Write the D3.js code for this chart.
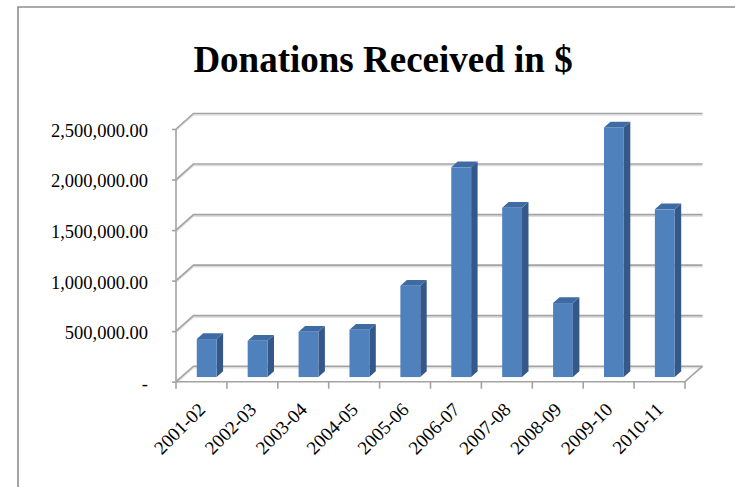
<!DOCTYPE html>
<html>
<head>
<meta charset="utf-8">
<script src="https://cdn.jsdelivr.net/npm/d3@7"></script>
<style>
	body { margin: 0; background: #fff; }
	svg { display: block; }
	text { font-family: "Liberation Serif", "DejaVu Serif", serif; fill: #000; }
</style>
</head>
<body>
<svg id="chart" width="735" height="487"></svg>
<script>
var categories = ['2001-02', '2002-03', '2003-04', '2004-05', '2005-06', '2006-07', '2007-08', '2008-09', '2009-10', '2010-11'];
var donations = [376000, 359000, 448000, 468000, 903000, 2075000, 1675000, 732000, 2470000, 1659000];
var yTicks = [0, 500000, 1000000, 1500000, 2000000, 2500000];
var chartTitle = 'Donations Received in $';

var svg = d3.select('#chart');

// plot box (front plane) and the 3d depth vector
var plotLeft = 176, plotRight = 685, plotBottom = 381.7, plotTop = 129;
var depthX = 17.5, depthY = -15.5;
var barFront = 0.3, barBack = 0.67;
var gridColor = '#a3a3a3';

var xScale = d3.scaleBand().domain(categories).range([plotLeft, plotRight]);
var yScale = d3.scaleLinear().domain([0, 2500000]).range([plotBottom, plotTop]);

// outer chart frame (top + left only visible)
svg.append('path')
	.attr('d', 'M18,487 L18,7 L735,7')
	.attr('fill', 'none')
	.attr('stroke', '#8e8e8e')
	.attr('stroke-width', 1.6);

svg.append('text')
	.attr('x', 383)
	.attr('y', 72)
	.attr('text-anchor', 'middle')
	.attr('font-size', 37)
	.attr('font-weight', 'bold')
	.text(chartTitle);

///walls: gridlines on the back wall + the diagonals on the side wall
var walls = svg.append('g');
walls.selectAll('path.shadow')
	.data(yTicks)
	.enter()
	.append('path')
	.attr('class', 'shadow')
	.attr('d', function (d) {
		var y = yScale(d) + 1.6;
		return 'M' + plotLeft + ',' + y + ' L' + (plotLeft + depthX) + ',' + (y + depthY) + ' L' + (plotRight + depthX) + ',' + (y + depthY);
	})
	.attr('fill', 'none')
	.attr('stroke', '#dedede')
	.attr('stroke-width', 1.4);
walls.selectAll('path.grid')
	.data(yTicks)
	.enter()
	.append('path')
	.attr('class', 'grid')
	.attr('d', function (d) {
		var y = yScale(d);
		return 'M' + plotLeft + ',' + y + ' L' + (plotLeft + depthX) + ',' + (y + depthY) + ' L' + (plotRight + depthX) + ',' + (y + depthY);
	})
	.attr('fill', 'none')
	.attr('stroke', gridColor)
	.attr('stroke-width', 1.6);

// floor right edge
walls.append('line')
	.attr('x1', plotRight).attr('y1', plotBottom)
	.attr('x2', plotRight + depthX).attr('y2', plotBottom + depthY)
	.attr('stroke', gridColor)
	.attr('stroke-width', 1.6);

///bars
var bw = xScale.bandwidth() * 0.39;
var fx = depthX * barFront, fy = depthY * barFront;
var sx = depthX * (barBack - barFront), sy = depthY * (barBack - barFront);

var bars = svg.append('g')
	.selectAll('g')
	.data(categories)
	.enter()
	.append('g');

function barLeft(c) {
	return xScale(c) + (xScale.bandwidth() - bw) / 2 + fx;
}
function barTop(i) {
	return yScale(donations[i]) + fy;
}

bars.append('path')
	.attr('d', function (c, i) {
		var x = barLeft(c) + bw, yT = barTop(i), yB = plotBottom + fy;
		return 'M' + x + ',' + yT + ' L' + (x + sx) + ',' + (yT + sy) + ' L' + (x + sx) + ',' + (yB + sy) + ' L' + x + ',' + yB + 'Z';
	})
	.attr('fill', '#335889');
bars.append('path')
	.attr('d', function (c, i) {
		var x = barLeft(c), yT = barTop(i);
		return 'M' + x + ',' + yT + ' L' + (x + sx) + ',' + (yT + sy) + ' L' + (x + bw + sx) + ',' + (yT + sy) + ' L' + (x + bw) + ',' + yT + 'Z';
	})
	.attr('fill', '#3f6ba3');
bars.append('rect')
	.attr('x', function (c) { return barLeft(c); })
	.attr('y', function (c, i) { return barTop(i); })
	.attr('width', bw)
	.attr('height', function (c, i) { return plotBottom + fy - barTop(i); })
	.attr('fill', '#4f81bd');

///axes
var yAxis = d3.axisLeft(yScale)
	.tickValues(yTicks)
	.tickSize(4)
	.tickPadding(24)
	.tickFormat(function (d) { return d === 0 ? '-' : d3.format(',.2f')(d); });
var yAxisG = svg.append('g')
	.attr('transform', 'translate(' + plotLeft + ',0)')
	.call(yAxis);
yAxisG.selectAll('text')
	.attr('font-size', 18.5)
	.attr('font-family', '"Liberation Serif", serif')
	.attr('fill', '#000')
	.attr('dy', '0.4em');
yAxisG.selectAll('line, path').attr('stroke', gridColor).attr('stroke-width', 1.6);
yAxisG.select('path').attr('d', 'M0,' + plotTop + 'V' + plotBottom);

// category boundaries get the tick marks, labels sit at band centres
var bounds = categories.map(function (c) { return xScale(c); }).concat([plotRight]);
svg.append('line')
	.attr('x1', plotLeft).attr('y1', plotBottom)
	.attr('x2', plotRight).attr('y2', plotBottom)
	.attr('stroke', gridColor)
	.attr('stroke-width', 1.6);
svg.append('g')
	.selectAll('line')
	.data(bounds)
	.enter()
	.append('line')
	.attr('x1', function (d) { return d; })
	.attr('x2', function (d) { return d; })
	.attr('y1', plotBottom)
	.attr('y2', plotBottom + 7)
	.attr('stroke', gridColor)
	.attr('stroke-width', 1.6);

svg.append('g')
	.selectAll('text')
	.data(categories)
	.enter()
	.append('text')
	.attr('font-size', 19)
	.attr('text-anchor', 'end')
	.attr('transform', function (c) {
		return 'translate(' + (xScale(c) + xScale.bandwidth() / 2 + 5) + ',' + (plotBottom + 29) + ') rotate(-45)';
	})
	.text(function (c) { return c; });
</script>
</body>
</html>
